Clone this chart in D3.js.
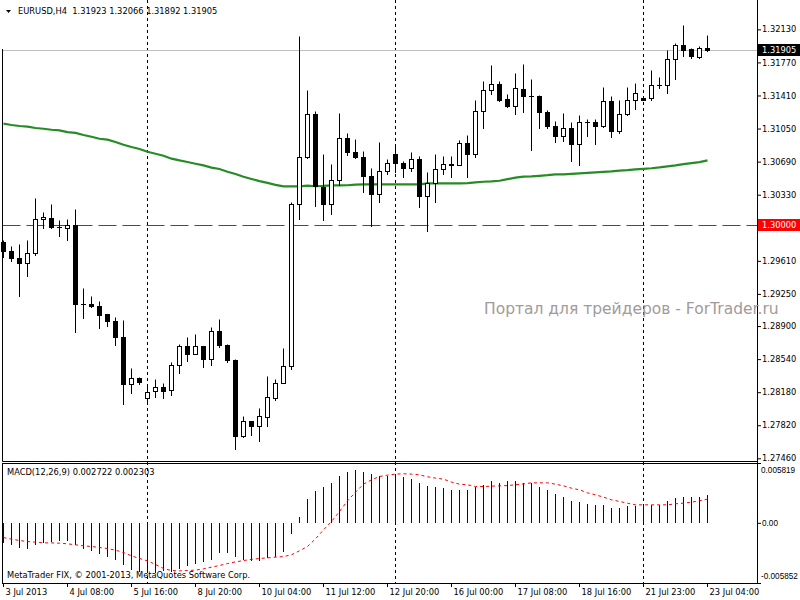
<!DOCTYPE html>
<html><head><meta charset="utf-8">
<script src="https://cdn.jsdelivr.net/npm/d3@7"></script>
<style>html,body{margin:0;padding:0;background:#fff;}</style>
</head><body><svg id="c" width="800" height="600" font-family="DejaVu Sans, sans-serif"></svg>
<script>
const openP = [1.29818,1.29720,1.29644,1.29586,1.29691,1.30061,1.30076,1.29980,1.29967,1.30000,
1.29138,1.29140,1.29118,1.29031,1.28955,1.28784,1.28269,1.28334,1.28117,1.28193,
1.28236,1.28204,1.28476,1.28683,1.28596,1.28683,1.28541,1.28846,1.28694,1.28530,
1.27699,1.27866,1.27808,1.27909,1.28117,1.28280,1.28461,1.30229,1.30740,1.31208,
1.30409,1.30229,1.30490,1.30947,1.30795,1.30740,1.30533,1.30337,1.30588,1.30773,
1.30675,1.30616,1.30718,1.30316,1.30457,1.30610,1.30658,1.30653,1.30893,1.30769,
1.31241,1.31470,1.31535,1.31372,1.31291,1.31481,1.31402,1.31404,1.31233,1.31078,
1.30965,1.31056,1.30877,1.31119,1.31121,1.31073,1.31353,1.31019,1.31204,1.31361,
1.31383,1.31378,1.31522,1.31524,1.31807,1.31963,1.31919,1.31825,1.31923];
const highP = [1.29840,1.29775,1.29796,1.29840,1.30297,1.30145,1.30232,1.30058,1.30065,1.30174,
1.29314,1.29223,1.29176,1.29035,1.28998,1.28969,1.28447,1.28345,1.28251,1.28327,
1.28283,1.28512,1.28708,1.28784,1.28817,1.28686,1.28893,1.28980,1.28708,1.28541,
1.27924,1.27870,1.28004,1.28360,1.28324,1.28661,1.30250,1.32061,1.31473,1.31244,
1.30776,1.30667,1.31223,1.31002,1.30940,1.30801,1.30620,1.30907,1.30722,1.30856,
1.30692,1.30790,1.30754,1.30577,1.30776,1.30747,1.30747,1.30921,1.30983,1.31364,
1.31563,1.31745,1.31571,1.31429,1.31658,1.31756,1.31593,1.31415,1.31255,1.31135,
1.31219,1.31121,1.31201,1.31157,1.31157,1.31506,1.31404,1.31364,1.31506,1.31549,
1.31385,1.31691,1.31614,1.31908,1.31985,1.32181,1.31930,1.31949,1.32066];
const lowP = [1.29647,1.29611,1.29223,1.29440,1.29669,1.29963,1.29972,1.29876,1.29832,1.28831,
1.28983,1.29103,1.28874,1.28896,1.28689,1.28055,1.28168,1.28272,1.28080,1.28128,
1.28112,1.28149,1.28385,1.28515,1.28594,1.28450,1.28472,1.28668,1.28512,1.27562,
1.27695,1.27717,1.27644,1.27808,1.28098,1.28278,1.28432,1.30065,1.30729,1.30202,
1.30050,1.30115,1.30439,1.30758,1.30729,1.30355,1.29985,1.30246,1.30551,1.30573,
1.30523,1.30583,1.30192,1.29930,1.30246,1.30555,1.30518,1.30650,1.30518,1.30740,
1.31052,1.31422,1.31346,1.31288,1.31212,1.31233,1.30820,1.31059,1.31059,1.30899,
1.30910,1.30692,1.30649,1.30965,1.30885,1.31063,1.30954,1.30997,1.31193,1.31266,
1.31362,1.31356,1.31487,1.31433,1.31593,1.31835,1.31814,1.31814,1.31892];
const closeP = [1.29713,1.29636,1.29582,1.29698,1.30065,1.30087,1.29974,1.29978,1.30000,1.29136,
1.29140,1.29114,1.29016,1.28951,1.28776,1.28265,1.28334,1.28287,1.28182,1.28236,
1.28189,1.28476,1.28683,1.28596,1.28683,1.28541,1.28846,1.28689,1.28530,1.27699,
1.27866,1.27808,1.27916,1.28128,1.28280,1.28461,1.30229,1.30740,1.31208,1.30420,
1.30229,1.30490,1.30947,1.30795,1.30736,1.30533,1.30337,1.30588,1.30671,1.30675,
1.30616,1.30718,1.30316,1.30457,1.30610,1.30664,1.30660,1.30893,1.30769,1.31244,
1.31470,1.31538,1.31364,1.31291,1.31491,1.31400,1.31404,1.31226,1.31073,1.30965,
1.31056,1.30877,1.31121,1.31121,1.31073,1.31353,1.31019,1.31208,1.31361,1.31437,
1.31364,1.31524,1.31524,1.31807,1.31963,1.31908,1.31835,1.31927,1.31905];
const maP = [1.31103,1.31089,1.31078,1.31070,1.31056,1.31048,1.31037,1.31030,1.31012,1.31002,
1.30980,1.30961,1.30939,1.30929,1.30904,1.30874,1.30849,1.30827,1.30798,1.30776,
1.30754,1.30722,1.30703,1.30686,1.30667,1.30649,1.30624,1.30610,1.30580,1.30555,
1.30526,1.30501,1.30477,1.30458,1.30437,1.30420,1.30420,1.30420,1.30428,1.30422,
1.30425,1.30431,1.30431,1.30433,1.30439,1.30442,1.30442,1.30442,1.30442,1.30442,
1.30442,1.30442,1.30442,1.30453,1.30453,1.30453,1.30453,1.30453,1.30455,1.30464,
1.30471,1.30475,1.30482,1.30499,1.30515,1.30526,1.30529,1.30535,1.30542,1.30551,
1.30551,1.30556,1.30562,1.30567,1.30573,1.30578,1.30583,1.30591,1.30597,1.30605,
1.30611,1.30618,1.30627,1.30638,1.30649,1.30662,1.30673,1.30684,1.30703];
const macdHist = [-0.00201,-0.00217,-0.00240,-0.00250,-0.00217,-0.00201,-0.00185,-0.00178,-0.00175,-0.00211,
-0.00250,-0.00276,-0.00308,-0.00331,-0.00363,-0.00412,-0.00460,-0.00477,-0.00487,-0.00487,
-0.00470,-0.00477,-0.00451,-0.00418,-0.00396,-0.00379,-0.00357,-0.00289,-0.00289,-0.00331,
-0.00357,-0.00370,-0.00370,-0.00344,-0.00337,-0.00285,-0.00110,0.00052,0.00230,0.00305,
0.00347,0.00392,0.00460,0.00490,0.00509,0.00499,0.00477,0.00460,0.00460,0.00467,
0.00444,0.00431,0.00383,0.00357,0.00347,0.00337,0.00315,0.00324,0.00315,0.00344,
0.00370,0.00402,0.00383,0.00402,0.00402,0.00392,0.00383,0.00353,0.00324,0.00276,
0.00247,0.00217,0.00198,0.00188,0.00169,0.00178,0.00149,0.00149,0.00159,0.00159,
0.00169,0.00178,0.00178,0.00208,0.00237,0.00247,0.00256,0.00256,0.002722];
const macdSignal = [-0.00143,-0.00159,-0.00172,-0.00182,-0.00188,-0.00195,-0.00195,-0.00198,-0.00204,-0.00214,
-0.00224,-0.00230,-0.00240,-0.00250,-0.00266,-0.00289,-0.00321,-0.00347,-0.00370,-0.00405,
-0.00444,-0.00464,-0.00467,-0.00464,-0.00460,-0.00448,-0.00431,-0.00415,-0.00396,-0.00380,
-0.00367,-0.00355,-0.00347,-0.00341,-0.00334,-0.00328,-0.00311,-0.00272,-0.00230,-0.00156,
-0.00068,0.00013,0.00110,0.00214,0.00298,0.00376,0.00418,0.00451,0.00464,0.00474,
0.00477,0.00474,0.00467,0.00448,0.00435,0.00425,0.00396,0.00376,0.00370,0.00353,
0.00353,0.00357,0.00360,0.00362,0.00370,0.00379,0.00389,0.00389,0.00389,0.00376,
0.00360,0.00337,0.00321,0.00292,0.00272,0.00250,0.00224,0.00208,0.00191,0.00175,
0.00175,0.00175,0.00175,0.00175,0.00185,0.00191,0.00201,0.00214,0.002303];
const priceTicks = [1.32130,1.31770,1.31410,1.31050,1.30690,1.30330,1.29610,1.29250,1.28900,1.28540,1.28180,1.27820,1.27460];
const dateIdx = [0,8,16,24,32,40,48,56,64,72,80,88];
const dateLabels = ["3 Jul 2013","4 Jul 08:00","5 Jul 16:00","8 Jul 20:00","10 Jul 04:00","11 Jul 12:00","12 Jul 20:00","16 Jul 00:00","17 Jul 08:00","18 Jul 16:00","21 Jul 23:00","23 Jul 04:00"];
const separatorIdx = [18,49,80];
const macdTicks = [0.005819,0,-0.005852];
const macdTickLabels = ["0.005819","0.00","-0.005852"];
const bidPrice = 1.31905;
const levelPrice = 1.30000;
const headerText = "EURUSD,H4  1.31923 1.32066 1.31892 1.31905";
const macdText = "MACD(12,26,9) 0.002722 0.002303";
const copyText = "MetaTrader FIX, \u00a9 2001-2013, MetaQuotes Software Corp.";
const watermark = "Портал для трейдеров - ForTrader.ru";

const FS = 8.3;
const svg = d3.select("#c");
const x = d3.scaleLinear().domain([0, 88]).range([3, 707]);
const y = d3.scaleLinear().domain([1.274309, 1.324494]).range([461, 0]);
const yM = d3.scaleLinear().domain([-0.005852, 0.005819]).range([583, 463]);
const px = i => x(i) + 0.5;
const py = v => Math.round(y(v)) + 0.5;
const pyM = v => Math.round(yM(v)) + 0.5;

svg.append("rect").attr("width",800).attr("height",600).attr("fill","#fff");

// period separators
svg.append("g").selectAll("line").data(separatorIdx).join("line")
  .attr("x1", d => px(d)).attr("x2", d => px(d)).attr("y1", 0).attr("y2", 583.5)
  .attr("stroke", "#000").attr("stroke-dasharray", "3,3").attr("stroke-width", 1);

// bid line & level line
svg.append("line").attr("x1",2.5).attr("x2",757).attr("y1",py(bidPrice)).attr("y2",py(bidPrice))
  .attr("stroke","#c0c0c0");
svg.append("line").attr("x1",2.5).attr("x2",757).attr("y1",py(levelPrice)).attr("y2",py(levelPrice))
  .attr("stroke","#ff0000").attr("stroke-dasharray","18,6");

// moving average
svg.append("path").datum(maP)
  .attr("d", d3.line().x((d,i) => px(i)).y(d => y(d)))
  .attr("fill","none").attr("stroke","#268c26").attr("stroke-width",2.2);

// candles
const idx = d3.range(openP.length);
const flat = i => Math.round(y(Math.max(openP[i],closeP[i]))) === Math.round(y(Math.min(openP[i],closeP[i])));
const cg = svg.append("g");
cg.selectAll("line.wick").data(idx).join("line").attr("class","wick")
  .attr("x1", i => px(i)).attr("x2", i => px(i))
  .attr("y1", i => py(highP[i])).attr("y2", i => py(lowP[i]) + 0.5)
  .attr("stroke","#000").attr("stroke-width",1);
cg.selectAll("rect.body").data(idx.filter(i => !flat(i))).join("rect")
  .attr("class","body")
  .attr("x", i => px(i) - 2).attr("width", 4)
  .attr("y", i => py(Math.max(openP[i], closeP[i])))
  .attr("height", i => py(Math.min(openP[i], closeP[i])) - py(Math.max(openP[i], closeP[i])))
  .attr("fill", i => closeP[i] >= openP[i] ? "#fff" : "#000")
  .attr("stroke","#000").attr("stroke-width",1);
cg.selectAll("line.doji").data(idx.filter(flat)).join("line")
  .attr("class","doji")
  .attr("x1", i => px(i) - 2.5).attr("x2", i => px(i) + 2.5)
  .attr("y1", i => py(closeP[i])).attr("y2", i => py(closeP[i]))
  .attr("stroke","#000").attr("stroke-width",1);

// MACD histogram
svg.append("g").selectAll("line").data(idx).join("line")
  .attr("x1", i => px(i)).attr("x2", i => px(i))
  .attr("y1", pyM(0) - 0.5).attr("y2", i => Math.round(yM(macdHist[i])))
  .attr("stroke","#000080").attr("stroke-width",1);
svg.append("path").datum(macdSignal)
  .attr("d", d3.line().x((d,i) => px(i)).y(d => yM(d)))
  .attr("fill","none").attr("stroke","#ff0000").attr("stroke-width",1).attr("stroke-dasharray","3,3");

// borders
svg.append("line").attr("x1",2.5).attr("x2",2.5).attr("y1",49).attr("y2",461.5).attr("stroke","#000");
svg.append("line").attr("x1",2.5).attr("x2",757.5).attr("y1",461.5).attr("y2",461.5).attr("stroke","#000");
svg.append("rect").attr("x",2.5).attr("y",463.5).attr("width",755).attr("height",120)
  .attr("fill","none").attr("stroke","#000");
svg.append("line").attr("x1",757.5).attr("x2",757.5).attr("y1",0).attr("y2",583.5).attr("stroke","#000");

// right price axis
const ga = svg.append("g").attr("transform","translate(757,0)")
  .call(d3.axisRight(y).tickValues(priceTicks).tickSize(4).tickPadding(1).tickFormat(d3.format(".5f")));
ga.select(".domain").remove();
ga.attr("font-family", null).attr("font-size", null);
ga.selectAll("text").style("font-size",FS+"px").style("font-family","DejaVu Sans").attr("fill","#000");

// price labels
function priceBox(v, bg){
  const yy = py(v);
  svg.append("rect").attr("x",758).attr("y",yy-6.5).attr("width",42).attr("height",12).attr("fill",bg);
  svg.append("text").attr("x",762).attr("y",yy).attr("dy","0.35em").style("font-size",FS+"px")
    .attr("fill","#fff").text(d3.format(".5f")(v));
}
priceBox(bidPrice, "#000");
priceBox(levelPrice, "#ff0000");

// MACD axis
const gm = svg.append("g").attr("transform","translate(757,0)")
  .call(d3.axisRight(yM).tickValues(macdTicks).tickSize(4).tickPadding(1).tickFormat((d,i) => macdTickLabels[i]));
gm.select(".domain").remove();
gm.selectAll("text").style("font-size","8.2px").style("font-family","Liberation Sans").attr("fill","#000")
  .attr("x", (d,i) => i === 1 ? 5 : 4)
  .attr("y", (d,i) => i === 0 ? 6.5 : (i === 2 ? -7 : 0));

// time axis
const gx = svg.append("g").attr("transform","translate(0,583)")
  .call(d3.axisBottom(x).tickValues(dateIdx).tickSize(4).tickPadding(2).tickFormat((d,i) => dateLabels[i]));
gx.select(".domain").remove();
gx.selectAll("text").style("font-size",FS+"px").style("font-family","DejaVu Sans").attr("fill","#000")
  .attr("text-anchor","start").attr("x",2);

// texts
svg.append("path").attr("d","M6,10L11,10L8.5,13Z").attr("fill","#000");
svg.append("text").attr("x",18).attr("y",14).style("font-size",FS+"px").attr("xml:space","preserve")
  .style("white-space","pre").attr("fill","#000").text(headerText);
svg.append("text").attr("x",7).attr("y",475).style("font-size",FS+"px").attr("fill","#000").text(macdText);
svg.append("text").attr("x",7).attr("y",578).style("font-size",FS+"px").attr("fill","#000").text(copyText);
svg.append("text").attr("x",484).attr("y",314).style("font-size","15.5px").attr("fill","#a39a9a").text(watermark);
</script></body></html>
